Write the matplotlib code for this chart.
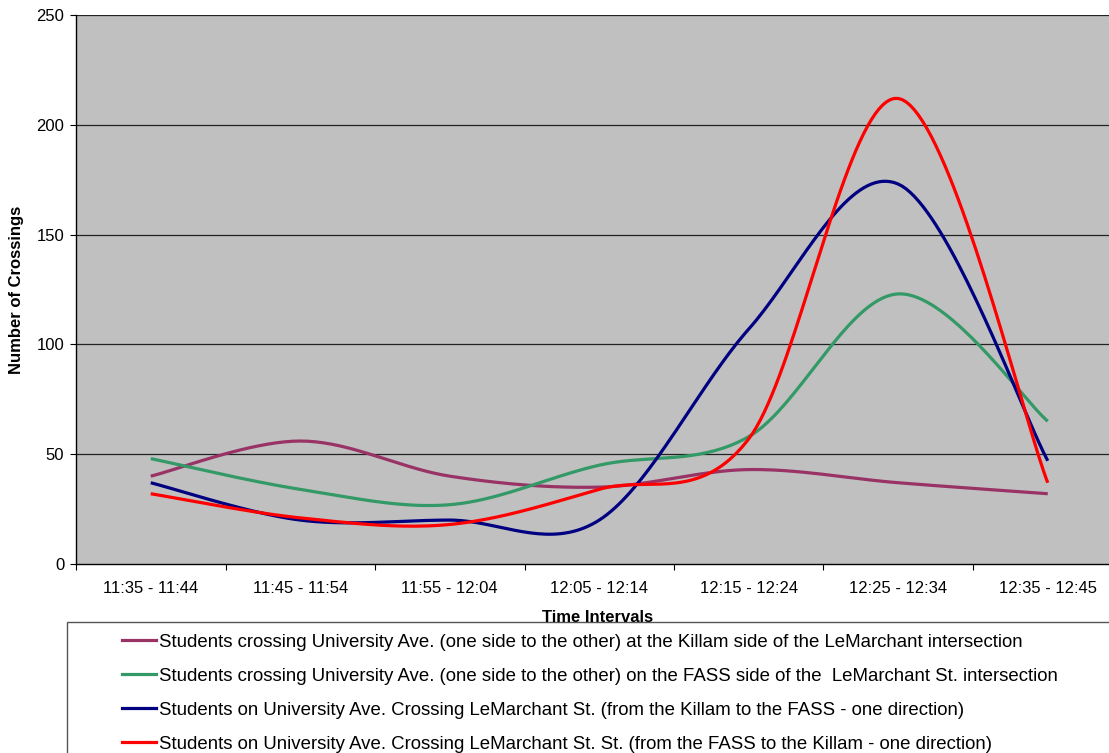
import numpy as np
import matplotlib
matplotlib.use("Agg")
import matplotlib.pyplot as plt
from matplotlib.patches import Rectangle
from matplotlib.lines import Line2D

plt.rcParams['font.family'] = ['Liberation Sans', 'DejaVu Sans']

# Time intervals (categories)
intervals = ["11:35 - 11:44", "11:45 - 11:54", "11:55 - 12:04", "12:05 - 12:14",
             "12:15 - 12:24", "12:25 - 12:34", "12:35 - 12:45"]

# Crossing counts per interval
killam_side = [40, 56, 40, 35, 43, 37, 32]
fass_side = [48, 34, 27, 45, 58, 123, 65]
killam_to_fass = [37, 20, 20, 20, 107, 173, 47]
fass_to_killam = [32, 21, 18, 34, 57, 212, 37]

series_labels = [
    "Students crossing University Ave. (one side to the other) at the Killam side of the LeMarchant intersection",
    "Students crossing University Ave. (one side to the other) on the FASS side of the  LeMarchant St. intersection",
    "Students on University Ave. Crossing LeMarchant St. (from the Killam to the FASS - one direction)",
    "Students on University Ave. Crossing LeMarchant St. St. (from the FASS to the Killam - one direction)",
]
series_colors = ["#993366", "#339966", "#000080", "#FF0000"]
y_ticks = [0, 50, 100, 150, 200, 250]


def smooth_curve(xs, ys, n=40):
    """Cubic Bezier smoothing through every point (spreadsheet-style)."""
    pts = np.column_stack([xs, ys]).astype(float)
    m = len(pts)
    out = [pts[0]]
    t = np.linspace(0, 1, n)[1:, None]
    for i in range(m - 1):
        p0 = pts[i - 1] if i > 0 else pts[i]
        p1 = pts[i]
        p2 = pts[i + 1]
        p3 = pts[i + 2] if i + 2 < m else pts[i + 1]
        c1 = p1 + (p2 - p0) / 6.0
        c2 = p2 - (p3 - p1) / 6.0
        seg = ((1 - t) ** 3) * p1 + 3 * ((1 - t) ** 2) * t * c1 \
            + 3 * (1 - t) * t ** 2 * c2 + t ** 3 * p2
        out.extend(seg)
    out = np.array(out)
    return out[:, 0], out[:, 1]


W, H = 1109, 753
fig = plt.figure(figsize=(W / 100, H / 100), dpi=100)
fig.patch.set_facecolor("white")

# plot area in pixels: left 76, right 1122.5 (runs past the right edge), top 15, bottom 564
left, right, top, bottom = 76, 1122.5, 15, 564
ax = fig.add_axes([left / W, (H - bottom) / H, (right - left) / W, (bottom - top) / H])
ax.set_facecolor("#C0C0C0")

x = np.arange(len(intervals))
for vals, col in zip([killam_side, fass_side, killam_to_fass, fass_to_killam], series_colors):
    sx, sy = smooth_curve(x, vals)
    ax.plot(sx, sy, color=col, lw=2.3, solid_capstyle="butt", zorder=3)

ax.set_xlim(-0.5, len(intervals) - 0.5)
ax.set_ylim(0, 250)

# horizontal gridlines
for yv in y_ticks[1:]:
    ax.axhline(yv, color="#222222", lw=0.9, zorder=1)

ax.set_yticks(y_ticks)
ax.set_yticklabels([str(v) for v in y_ticks])
ax.tick_params(axis="y", direction="out", length=4.5, width=0.8, pad=4,
               labelsize=12, colors="black")

# category boundaries carry the tick marks, centres carry the labels
ax.set_xticks(np.arange(-0.5, len(intervals) + 0.5, 1.0))
ax.set_xticklabels([])
ax.tick_params(axis="x", which="major", direction="out", length=4.5, width=0.8)
ax.set_xticks(x, minor=True)
ax.set_xticklabels(intervals, minor=True)
ax.tick_params(axis="x", which="minor", length=0, pad=12, labelsize=12)

for side in ["top", "right"]:
    ax.spines[side].set_visible(False)
for side in ["left", "bottom"]:
    ax.spines[side].set_color("black")
    ax.spines[side].set_linewidth(1.0)

fig.text(17 / W, 1 - 290 / H, "Number of Crossings", rotation=90, ha="center", va="center",
         fontsize=12, fontweight="bold")
fig.text(598 / W, 1 - 618 / H, "Time Intervals", ha="center", va="center",
         fontsize=12, fontweight="bold")

# legend box (extends past the figure edges)
fig.patches.append(Rectangle((67 / W, -10 / H), (1200 - 67) / W, (H + 10 - 622) / H,
                             transform=fig.transFigure, facecolor="white",
                             edgecolor="#555555", lw=1.0, zorder=0))
handles = [Line2D([0], [0], color=c, lw=2.3) for c in series_colors]
leg = fig.legend(handles, series_labels, loc="upper left",
                 bbox_to_anchor=(122 / W, 1 - 633.5 / H), frameon=False,
                 fontsize=13.4, handlelength=1.8, handletextpad=0.2,
                 labelspacing=0.92, borderpad=0, borderaxespad=0)

fig.savefig("out.png", dpi=100)
